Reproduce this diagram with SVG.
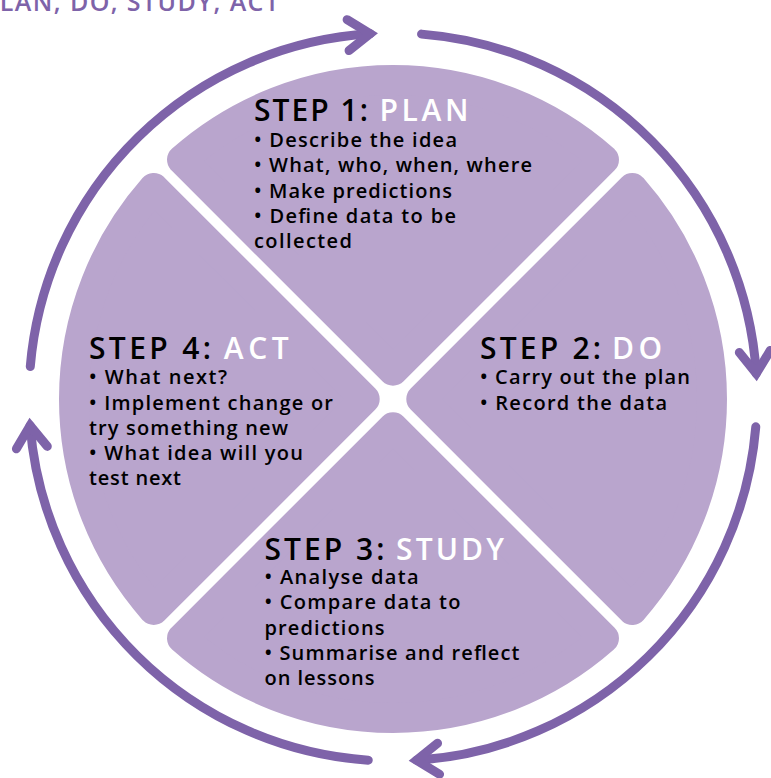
<svg xmlns="http://www.w3.org/2000/svg" width="771" height="778" viewBox="0 0 771 778">
  <style>
    .quad { fill: #b9a5cd; stroke: #b9a5cd; stroke-width: 30; stroke-linejoin: round; }
    .ring { fill: none; stroke: #7e63a9; stroke-width: 9; stroke-linecap: round; }
    .head { font-family: "Open Sans", "Noto Sans", "Liberation Sans", sans-serif; font-size: 30px; font-weight: 600; fill: #000; }
    .head.w { fill: #ffffff; }
    .body { font-family: "Open Sans", "Noto Sans", "Liberation Sans", sans-serif; font-size: 20px; font-weight: 600; fill: #000; }
    .title { font-family: "Open Sans", "Noto Sans", "Liberation Sans", sans-serif; font-size: 25px; font-weight: 600; fill: #7e63a9; }
  </style>
  <defs>
    <marker id="chevron" markerUnits="userSpaceOnUse" viewBox="-32 -24 44 48" refX="0" refY="0" markerWidth="44" markerHeight="48" orient="auto" overflow="visible">
      <path d="M -22.1 -15.5 L 0 0 L -22.1 15.5" fill="none" stroke="#7e63a9" stroke-width="9" stroke-linecap="round" stroke-linejoin="miter"/>
    </marker>
  </defs>

  <rect width="771" height="778" fill="#ffffff"/>

  <!-- heading, clipped by the left edge -->
  <g id="title">
    <text class="title" x="-17" y="11" textLength="296" lengthAdjust="spacing">PLAN, DO, STUDY, ACT</text>
  </g>

  <!-- cycle arrows around the disc -->
  <g id="connectors">
    <path class="ring" d="M 421.56 34.12 A 364 364 0 0 1 756.24 373.51" marker-end="url(#chevron)"/>
    <path class="ring" d="M 755.78 426.83 A 364 364 0 0 1 416.49 760.24" marker-end="url(#chevron)"/>
    <path class="ring" d="M 368.24 760.16 A 364 364 0 0 1 30.12 425.56" marker-end="url(#chevron)"/>
    <path class="ring" d="M 30.28 366.54 A 364 364 0 0 1 370.14 33.72" marker-end="url(#chevron)"/>
  </g>

  <!-- Step 1: top quadrant -->
  <g id="step1-plan">
    <path class="quad" d="M 393 370.72 L 603.98 159.74 A 319 319 0 0 0 182.02 159.74 Z"/>
    <text class="head" x="254" y="121" textLength="114" lengthAdjust="spacing">STEP 1:</text>
    <text class="head w" x="379.5" y="121" textLength="89" lengthAdjust="spacing">PLAN</text>
    <text class="body" x="254" y="146.5" textLength="203" lengthAdjust="spacing">• Describe the idea</text>
    <text class="body" x="254" y="172" textLength="278" lengthAdjust="spacing">• What, who, when, where</text>
    <text class="body" x="254" y="197.6" textLength="198" lengthAdjust="spacing">• Make predictions</text>
    <text class="body" x="254" y="222.8" textLength="202" lengthAdjust="spacing">• Define data to be</text>
    <text class="body" x="254" y="248.3" textLength="98" lengthAdjust="spacing">collected</text>
  </g>

  <!-- Step 2: right quadrant -->
  <g id="step2-do">
    <path class="quad" d="M 421.28 399 L 632.26 188.02 A 319 319 0 0 1 632.26 609.98 Z"/>
    <text class="head" x="480" y="359.4" textLength="121" lengthAdjust="spacing">STEP 2:</text>
    <text class="head w" x="612" y="359.4" textLength="50" lengthAdjust="spacing">DO</text>
    <text class="body" x="480" y="384" textLength="210" lengthAdjust="spacing">• Carry out the plan</text>
    <text class="body" x="480" y="409.5" textLength="187" lengthAdjust="spacing">• Record the data</text>
  </g>

  <!-- Step 3: bottom quadrant -->
  <g id="step3-study">
    <path class="quad" d="M 393 427.28 L 603.98 638.26 A 319 319 0 0 1 182.02 638.26 Z"/>
    <text class="head" x="264.5" y="559.5" textLength="120" lengthAdjust="spacing">STEP 3:</text>
    <text class="head w" x="396" y="559.5" textLength="108" lengthAdjust="spacing">STUDY</text>
    <text class="body" x="264.5" y="584" textLength="154" lengthAdjust="spacing">• Analyse data</text>
    <text class="body" x="264.5" y="609.3" textLength="196" lengthAdjust="spacing">• Compare data to</text>
    <text class="body" x="264.5" y="634.5" textLength="120" lengthAdjust="spacing">predictions</text>
    <text class="body" x="264.5" y="659.5" textLength="255" lengthAdjust="spacing">• Summarise and reflect</text>
    <text class="body" x="264.5" y="685" textLength="110" lengthAdjust="spacing">on lessons</text>
  </g>

  <!-- Step 4: left quadrant -->
  <g id="step4-act">
    <path class="quad" d="M 364.72 399 L 153.74 609.98 A 319 319 0 0 1 153.74 188.02 Z"/>
    <text class="head" x="89" y="359.4" textLength="122" lengthAdjust="spacing">STEP 4:</text>
    <text class="head w" x="223.7" y="359.4" textLength="65" lengthAdjust="spacing">ACT</text>
    <text class="body" x="89" y="384" textLength="138" lengthAdjust="spacing">• What next?</text>
    <text class="body" x="89" y="409.5" textLength="244" lengthAdjust="spacing">• Implement change or</text>
    <text class="body" x="89" y="434.6" textLength="199" lengthAdjust="spacing">try something new</text>
    <text class="body" x="89" y="460" textLength="214" lengthAdjust="spacing">• What idea will you</text>
    <text class="body" x="89" y="485" textLength="92" lengthAdjust="spacing">test next</text>
  </g>
</svg>
